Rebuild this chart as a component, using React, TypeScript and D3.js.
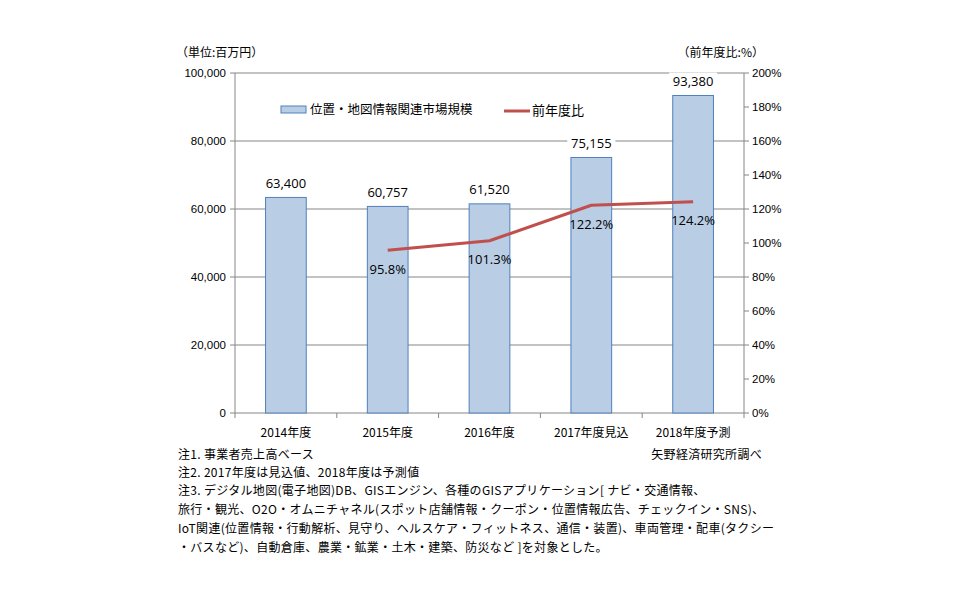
import React from "react";
import * as d3 from "d3";

const categories = ["2014年度", "2015年度", "2016年度", "2017年度見込", "2018年度予測"];
const marketSize = [63400, 60757, 61520, 75155, 93380];
const yoyRatio: (number | null)[] = [null, 95.8, 101.3, 122.2, 124.2];
const leftTicks = [0, 20000, 40000, 60000, 80000, 100000];
const rightTicks = [0, 20, 40, 60, 80, 100, 120, 140, 160, 180, 200];
const notes = [
  "注1. 事業者売上高ベース",
  "注2. 2017年度は見込値、2018年度は予測値",
  "注3. デジタル地図(電子地図)DB、GISエンジン、各種のGISアプリケーション[ ナビ・交通情報、",
  "旅行・観光、O2O・オムニチャネル(スポット店舗情報・クーポン・位置情報広告、チェックイン・SNS)、",
  "IoT関連(位置情報・行動解析、見守り、ヘルスケア・フィットネス、通信・装置)、車両管理・配車(タクシー",
  "・バスなど)、自動倉庫、農業・鉱業・土木・建築、防災など ]を対象とした。",
];

const W = 968;
const H = 605;
const left = 235;
const right = 744;
const top = 73;
const bottom = 413;
const noteRows = [455, 473, 491, 510, 529, 548];

const JP = "'Noto Sans CJK JP', 'Noto Sans', sans-serif";
const NUM = "'Liberation Sans', Arial, sans-serif";
const LBL = "'Open Sans', 'Noto Sans', sans-serif";

export default function App() {
  const x = d3.scaleBand<string>().domain(categories).range([left, right]).paddingInner(0.6).paddingOuter(0.3);
  const band = d3.scaleBand<string>().domain(categories).range([left, right]);
  const y = d3.scaleLinear().domain([0, 100000]).range([bottom, top]);
  const y2 = d3.scaleLinear().domain([0, 200]).range([bottom, top]);

  const linePts = categories
    .map((c, i) => ({ c, v: yoyRatio[i] }))
    .filter((d) => d.v !== null) as { c: string; v: number }[];
  const line = d3
    .line<{ c: string; v: number }>()
    .x((d) => (band(d.c) as number) + band.bandwidth() / 2)
    .y((d) => y2(d.v));

  const fmt = d3.format(",");
  const grid = "#868686";

  return (
    <svg width={W} height={H} style={{ position: "absolute", left: 0, top: 0, background: "#fff" }}>
      {/* gridlines */}
      {leftTicks.map((t) => (
        <line key={"g" + t} x1={left} x2={right} y1={y(t)} y2={y(t)} stroke={grid} strokeWidth={1} />
      ))}
      {/* left axis */}
      <line x1={left} x2={left} y1={top} y2={bottom} stroke={grid} />
      {leftTicks.map((t) => (
        <g key={"l" + t}>
          <line x1={left - 5} x2={left} y1={y(t)} y2={y(t)} stroke={grid} />
          <text x={left - 9} y={y(t)} dy="0.35em" textAnchor="end" fontFamily={NUM} fontSize={11.5} fill="#000">
            {fmt(t)}
          </text>
        </g>
      ))}
      {/* right axis */}
      <line x1={right} x2={right} y1={top} y2={bottom} stroke={grid} />
      {rightTicks.map((t) => (
        <g key={"r" + t}>
          <line x1={right} x2={right + 5} y1={y2(t)} y2={y2(t)} stroke={grid} />
          <text x={right + 8} y={y2(t)} dy="0.35em" textAnchor="start" fontFamily={NUM} fontSize={11.5} fill="#000">
            {t + "%"}
          </text>
        </g>
      ))}
      {/* category ticks */}
      {categories.map((c) => (
        <line key={"ct" + c} x1={band(c) as number} x2={band(c) as number} y1={bottom} y2={bottom + 5} stroke={grid} />
      ))}
      <line x1={right} x2={right} y1={bottom} y2={bottom + 5} stroke={grid} />
      {categories.map((c) => (
        <text
          key={"cl" + c}
          x={(band(c) as number) + band.bandwidth() / 2}
          y={433}
          dy="0.35em"
          textAnchor="middle"
          fontFamily={JP}
          fontSize={12}
          fill="#000"
        >
          {c}
        </text>
      ))}
      {/* bars */}
      {categories.map((c, i) => (
        <rect
          key={"b" + c}
          x={x(c)}
          y={y(marketSize[i])}
          width={x.bandwidth()}
          height={bottom - y(marketSize[i])}
          fill="#B9CDE5"
          stroke="#4F81BD"
          strokeWidth={1}
        />
      ))}
      {/* bar value labels */}
      {categories.map((c, i) => {
        const cx = (band(c) as number) + band.bandwidth() / 2;
        const cy = y(marketSize[i]) - 14;
        return (
          <g key={"bl" + c}>
            <rect x={cx - 24} y={cy - 9} width={48} height={18} fill="#fff" />
            <text x={cx} y={cy} dy="0.35em" textAnchor="middle" fontFamily={LBL} fontSize={13} fill="#000">
              {fmt(marketSize[i])}
            </text>
          </g>
        );
      })}
      {/* ratio line */}
      <path d={line(linePts) || ""} fill="none" stroke="#C0504D" strokeWidth={3} strokeLinejoin="round" />
      {linePts.map((d) => (
        <text
          key={"ll" + d.c}
          x={(band(d.c) as number) + band.bandwidth() / 2}
          y={y2(d.v) + 19}
          dy="0.35em"
          textAnchor="middle"
          fontFamily={LBL}
          fontSize={13}
          fill="#000"
        >
          {d.v.toFixed(1) + "%"}
        </text>
      ))}
      {/* legend */}
      <rect x={281} y={106} width={25} height={7} fill="#B9CDE5" stroke="#4F81BD" />
      <text x={310} y={110} dy="0.35em" fontFamily={JP} fontSize={12.5} fill="#000">
        位置・地図情報関連市場規模
      </text>
      <line x1={504} x2={530} y1={111} y2={111} stroke="#C0504D" strokeWidth={3} />
      <text x={532} y={110} dy="0.35em" fontFamily={JP} fontSize={13} fill="#000">
        前年度比
      </text>
      {/* axis unit captions */}
      <text x={176} y={53} dy="0.35em" fontFamily={JP} fontSize={12} fill="#000">
        （単位:百万円）
      </text>
      <text x={764} y={53} dy="0.35em" textAnchor="end" fontFamily={JP} fontSize={12} fill="#000">
        （前年度比:%）
      </text>
      {/* notes */}
      {notes.map((n, i) => (
        <text
          key={"n" + i}
          x={178}
          y={noteRows[i]}
          dy="0.35em"
          fontFamily={JP}
          fontSize={12}
          letterSpacing={0.3}
          fill="#000"
        >
          {n}
        </text>
      ))}
      <text x={762} y={noteRows[0]} dy="0.35em" textAnchor="end" fontFamily={JP} fontSize={12} letterSpacing={0.3} fill="#000">
        矢野経済研究所調べ
      </text>
    </svg>
  );
}
